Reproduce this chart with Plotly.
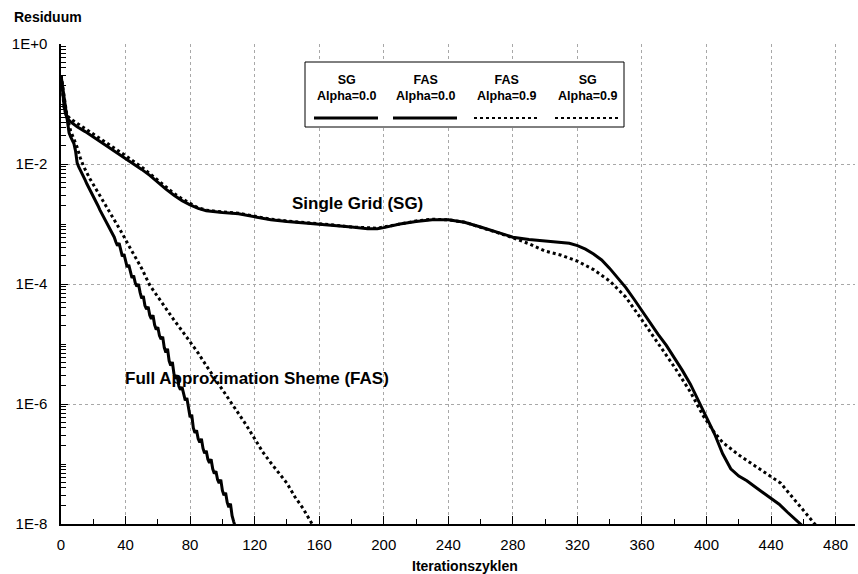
import plotly.graph_objects as go

# ---- data (residual values given as log10 exponents) ----
sg00_x = [0, 1, 2, 3, 4, 6, 10, 15, 20, 25, 30, 35, 40, 45, 50, 55, 60, 65, 70, 75, 80, 85, 90, 95, 100,
          110, 120, 130, 140, 150, 160, 170, 180, 190, 196, 200, 210, 220, 230, 240, 250, 260, 270, 280,
          290, 300, 310, 315, 320, 325, 330, 335, 340, 345, 350, 355, 360, 365, 370, 375, 380, 385, 390,
          395, 400, 405, 410, 415, 420, 425, 430, 435, 440, 445, 450, 455, 459]
sg00_log = [-0.52, -0.80, -1.05, -1.18, -1.24, -1.30, -1.38, -1.46, -1.55, -1.63, -1.72, -1.81, -1.90, -1.99,
            -2.09, -2.19, -2.31, -2.42, -2.52, -2.61, -2.68, -2.74, -2.78, -2.80, -2.81,
            -2.83, -2.88, -2.93, -2.96, -2.98, -3.00, -3.02, -3.05, -3.08, -3.08, -3.06, -3.00, -2.96, -2.93,
            -2.93, -2.97, -3.05, -3.13, -3.22, -3.26, -3.28, -3.30, -3.32, -3.36, -3.42, -3.50, -3.60, -3.74,
            -3.90, -4.06, -4.25, -4.45, -4.64, -4.84, -5.02, -5.22, -5.44, -5.67, -5.95, -6.22, -6.50, -6.83,
            -7.08, -7.20, -7.28, -7.38, -7.48, -7.58, -7.67, -7.80, -7.92, -8.02]

sg09_x = [0, 1, 2, 3, 4, 6, 10, 15, 20, 25, 30, 35, 40, 45, 50, 55, 60, 65, 70, 75, 80, 85, 90, 95, 100,
          110, 120, 130, 140, 150, 160, 170, 180, 190, 196, 200, 210, 220, 230, 240, 250, 260, 270, 280,
          290, 300, 310, 320, 330, 340, 350, 360, 370, 380, 390, 398, 405, 410, 420, 430, 440, 446, 450,
          456, 462, 468]
sg09_log = [-0.52, -0.85, -1.08, -1.16, -1.20, -1.25, -1.32, -1.41, -1.50, -1.59, -1.68, -1.77, -1.86, -1.95,
            -2.05, -2.16, -2.27, -2.39, -2.49, -2.58, -2.66, -2.73, -2.77, -2.79, -2.80,
            -2.82, -2.87, -2.92, -2.95, -2.97, -2.99, -3.02, -3.05, -3.07, -3.07, -3.05, -3.00, -2.95, -2.92,
            -2.93, -2.97, -3.05, -3.14, -3.23, -3.33, -3.45, -3.52, -3.62, -3.76, -3.95, -4.22, -4.60, -4.98,
            -5.38, -5.80, -6.20, -6.48, -6.64, -6.85, -7.03, -7.22, -7.32, -7.45, -7.64, -7.82, -8.03]

fas00_x = list(range(0, 109))
fas00_log = [-0.52, -0.70, -0.88, -1.05, -1.30, -1.48, -1.55, -1.60, -1.66, -1.78,
             -1.98, -2.05, -2.10, -2.16, -2.22, -2.27, -2.33, -2.38, -2.43, -2.48,
             -2.54, -2.59, -2.64, -2.70, -2.76, -2.81, -2.86, -2.92, -2.97, -3.03,
             -3.08, -3.13, -3.18, -3.22, -3.30, -3.36, -3.32, -3.46, -3.54, -3.50,
             -3.64, -3.72, -3.68, -3.82, -3.90, -3.86, -3.98, -4.04, -4.00, -4.14,
             -4.24, -4.20, -4.36, -4.42, -4.38, -4.52, -4.58, -4.52, -4.68, -4.76,
             -4.72, -4.86, -4.92, -4.88, -5.06, -5.14, -5.08, -5.28, -5.36, -5.30,
             -5.50, -5.58, -5.52, -5.70, -5.76, -5.72, -5.86, -5.94, -5.90, -6.08,
             -6.22, -6.18, -6.40, -6.48, -6.44, -6.58, -6.64, -6.58, -6.74, -6.82,
             -6.78, -6.92, -6.98, -6.92, -7.08, -7.16, -7.12, -7.26, -7.32, -7.26,
             -7.44, -7.52, -7.48, -7.64, -7.72, -7.66, -7.86, -7.96, -8.05]

fas09_x = [0, 2, 4, 6, 8, 10, 12, 14, 18, 22, 26, 30, 34, 38, 42, 46, 50, 55, 60, 65, 70, 75, 80, 85, 90,
           95, 100, 105, 110, 115, 120, 125, 130, 136, 140, 145, 150, 156]
fas09_log = [-0.52, -0.90, -1.25, -1.45, -1.58, -1.72, -1.90, -2.04, -2.25, -2.43, -2.62, -2.80, -2.97, -3.16,
             -3.36, -3.55, -3.74, -4.02, -4.22, -4.42, -4.60, -4.78, -4.96, -5.15, -5.36, -5.56, -5.76, -5.96,
             -6.14, -6.36, -6.58, -6.80, -6.98, -7.18, -7.32, -7.55, -7.74, -8.02]

legend_labels = ["SG<br>Alpha=0.0", "FAS<br>Alpha=0.0", "FAS<br>Alpha=0.9", "SG<br>Alpha=0.9"]
legend_dash = ["solid", "solid", "dot", "dot"]

y_tickvals = [1, 1e-2, 1e-4, 1e-6, 1e-8]
y_ticktext = ["1E+0", "1E-2", "1E-4", "1E-6", "1E-8"]
x_tickvals = [0, 40, 80, 120, 160, 200, 240, 280, 320, 360, 400, 440, 480]

FONT = "Arial, Liberation Sans, sans-serif"

def to_val(logs):
    return [10 ** v for v in logs]

fig = go.Figure()
series = [
    (sg00_x, sg00_log, "solid"),
    (sg09_x, sg09_log, "dot"),
    (fas00_x, fas00_log, "solid"),
    (fas09_x, fas09_log, "dot"),
]
for xs, ls, dash in series:
    fig.add_trace(go.Scatter(x=xs, y=to_val(ls), mode="lines",
                             line=dict(color="black", width=3, dash=dash),
                             showlegend=False, hoverinfo="skip"))

minor_y = []
for k in range(-8, 0):
    for m in range(2, 10):
        minor_y.append(m * 10 ** k)
minor_y += [10 ** k for k in (-7, -5, -3, -1)]

fig.update_layout(
    width=858, height=574,
    margin=dict(l=61, r=3, t=44, b=50),
    paper_bgcolor="white", plot_bgcolor="white",
    font=dict(family=FONT, size=15, color="black"),
    xaxis=dict(range=[0, 492], tickmode="array", tickvals=x_tickvals,
               ticks="inside", ticklen=8, tickcolor="black", tickwidth=1,
               showline=True, linecolor="black", linewidth=1.5,
               showgrid=True, gridcolor="#a8a8a8", griddash="dot", gridwidth=1,
               zeroline=False, ticklabelstandoff=6,
               minor=dict(dtick=20, ticks="inside", ticklen=5, tickcolor="black", showgrid=False),
               tickfont=dict(size=15)),
    yaxis=dict(type="log", range=[-8, 0], tickmode="array", tickvals=y_tickvals, ticktext=y_ticktext,
               ticks="inside", ticklen=7, tickcolor="black", tickwidth=1,
               showline=True, linecolor="black", linewidth=1.5,
               showgrid=True, gridcolor="#a8a8a8", griddash="dot", gridwidth=1,
               zeroline=False, ticklabelstandoff=9,
               minor=dict(tickmode="array", tickvals=minor_y, ticks="inside", ticklen=5,
                          tickcolor="black", showgrid=False),
               tickfont=dict(size=15)),
)

def px2paper(px, py):
    return (px - 61) / 794, (524 - py) / 480

annotations = []
x, y = px2paper(465, 566)
annotations.append(dict(text="<b>Iterationszyklen</b>", x=x, y=y, xref="paper", yref="paper",
                        xanchor="center", yanchor="middle", showarrow=False, font=dict(size=14)))
x, y = px2paper(12, 17)
annotations.append(dict(text="<b>Residuum</b>", x=x, y=y, xref="paper", yref="paper",
                        xanchor="left", yanchor="middle", showarrow=False, font=dict(size=14)))
x, y = px2paper(290, 203)
annotations.append(dict(text="<b>Single Grid (SG)</b>", x=x, y=y, xref="paper", yref="paper",
                        xanchor="left", yanchor="middle", showarrow=False, font=dict(size=17)))
x, y = px2paper(123, 378)
annotations.append(dict(text="<b>Full Approximation Sheme (FAS)</b>", x=x, y=y, xref="paper", yref="paper",
                        xanchor="left", yanchor="middle", showarrow=False, font=dict(size=17)))

# custom legend box
shapes = []
bx0, by0 = px2paper(305, 62)
bx1, by1 = px2paper(624, 127)
shapes.append(dict(type="rect", xref="paper", yref="paper", x0=bx0, y0=by1, x1=bx1, y1=by0,
                   line=dict(color="black", width=1), fillcolor="white", layer="above"))
centers = [346, 425, 506, 587]
for cx, lab, dash in zip(centers, legend_labels, legend_dash):
    tx, ty = px2paper(cx, 88.5)
    annotations.append(dict(text="<b>" + lab + "</b>", x=tx, y=ty, xref="paper", yref="paper",
                            xanchor="center", yanchor="middle", showarrow=False,
                            font=dict(size=12.5)))
    lx0, ly = px2paper(cx - 32, 118)
    lx1, _ = px2paper(cx + 32, 118)
    shapes.append(dict(type="line", xref="paper", yref="paper", x0=lx0, x1=lx1, y0=ly, y1=ly,
                       line=dict(color="black", width=3 if dash == "solid" else 2, dash=dash),
                       layer="above"))

fig.update_layout(annotations=annotations, shapes=shapes)
fig.write_html("out.html")
